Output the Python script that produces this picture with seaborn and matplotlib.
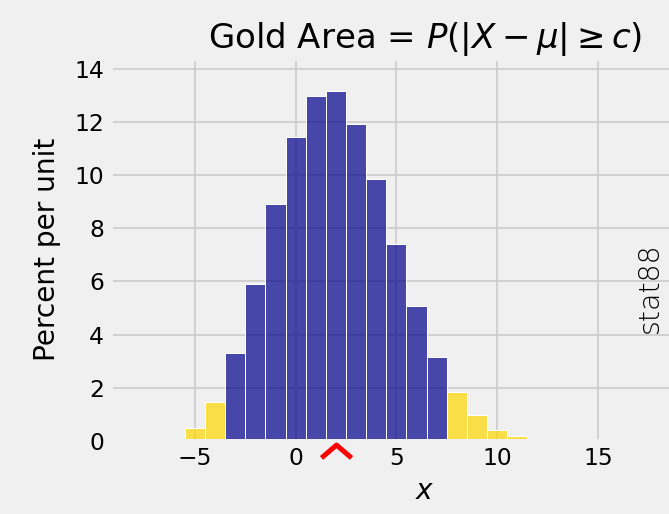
import matplotlib.pyplot as plt
import seaborn as sns

plt.style.use('fivethirtyeight')
plt.rcParams['font.family'] = ['DejaVu Sans']

# values: percent per unit for each integer x
x_values = [-6, -5, -4, -3, -2, -1, 0, 1, 2, 3, 4, 5, 6, 7, 8, 9, 10, 11, 12]
percents = [0.08, 0.48, 1.48, 3.32, 5.92, 8.9, 11.45, 12.98, 13.17, 11.93,
            9.86, 7.41, 5.06, 3.17, 1.86, 0.98, 0.41, 0.19, 0.08]
mu = 2
c = 6

inside_x = [x for x in x_values if abs(x - mu) < c]
inside_p = [p for x, p in zip(x_values, percents) if abs(x - mu) < c]
tail_x = [x for x in x_values if abs(x - mu) >= c]
tail_p = [p for x, p in zip(x_values, percents) if abs(x - mu) >= c]

fig = plt.figure(figsize=(669 / 120, 514 / 120), dpi=120)
ax = fig.add_axes([0.1644, 0.142, 0.942, 0.745])

sns.histplot(x=inside_x, weights=inside_p, discrete=True, color='darkblue',
             alpha=0.7, edgecolor='white', linewidth=0.6, ax=ax)
sns.histplot(x=tail_x, weights=tail_p, discrete=True, color='gold',
             alpha=0.7, edgecolor='white', linewidth=0.6, ax=ax)

chevron = [(-1, -0.43), (0, 0.43), (1, -0.43)]
ax.plot([mu], [-0.36], marker=chevron, ms=18, mfc='none', mec='red', mew=3,
        ls='none', clip_on=False, zorder=10)

ax.set_xlim(-9.22, 22.07)
ax.set_ylim(0, 14.4)
ax.set_yticks(range(0, 15, 2))
ax.set_xticks([-5, 0, 5, 10, 15])
ax.set_xlabel('$x$')
ax.set_ylabel('Percent per unit', labelpad=8)
ax.set_title(r'Gold Area = $P(|X - \mu| \geq c)$', fontsize=20.4)

fig.text(650 / 669, 1 - 288 / 514, 'stat88', rotation=90, ha='center',
         va='center', fontsize=17, fontweight='light')

fig.savefig('out.png', dpi=120)
